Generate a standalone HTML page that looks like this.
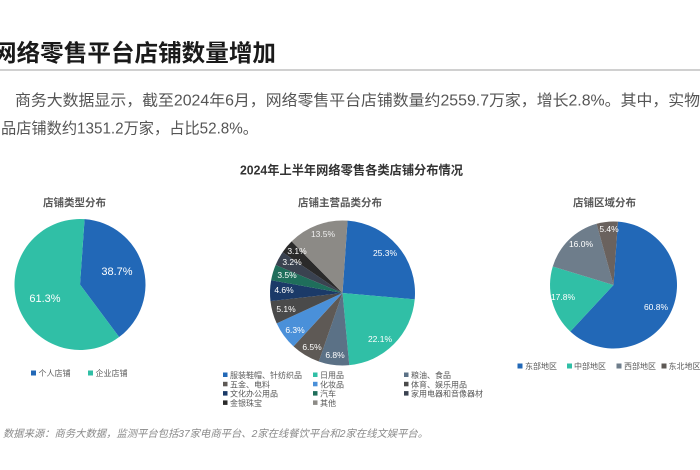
<!DOCTYPE html>
<html><head><meta charset="utf-8"><style>
html,body{margin:0;padding:0;background:#fff;width:700px;height:470px;overflow:hidden}
svg{display:block}
text{font-family:"Liberation Sans","Noto Sans CJK SC",sans-serif}
</style></head><body>
<svg width="700" height="470" viewBox="0 0 700 470" xmlns="http://www.w3.org/2000/svg">
<rect width="700" height="470" fill="#fff"/>
<text x="-7" y="61" font-size="23.5" font-weight="bold" fill="#1a1a1a" textLength="283" lengthAdjust="spacingAndGlyphs">网络零售平台店铺数量增加</text>
<rect x="0" y="69" width="700" height="2" fill="#d0d0d0"/>
<text x="15" y="105.5" font-size="15.5" fill="#555" textLength="685" lengthAdjust="spacingAndGlyphs">商务大数据显示，截至2024年6月，网络零售平台店铺数量约2559.7万家，增长2.8%。其中，实物</text>
<text x="1" y="133.5" font-size="15.5" fill="#555" textLength="257" lengthAdjust="spacingAndGlyphs">品店铺数约1351.2万家，占比52.8%。</text>

<text x="351.5" y="174.7" font-size="12.5" font-weight="bold" fill="#333" text-anchor="middle" textLength="223" lengthAdjust="spacingAndGlyphs">2024年上半年网络零售各类店铺分布情况</text>

<text x="74.5" y="206" font-size="10.5" font-weight="bold" fill="#595959" text-anchor="middle">店铺类型分布</text>
<text x="340" y="206" font-size="10.5" font-weight="bold" fill="#595959" text-anchor="middle">店铺主营品类分布</text>
<text x="604.5" y="206" font-size="10.5" font-weight="bold" fill="#595959" text-anchor="middle">店铺区域分布</text>

<!-- Left pie -->
<g transform="rotate(4 80 284.5)">
<path d="M80,284.5 L80,219 A65.5,65.5 0 0 1 122.70,334.17 Z" fill="#2268b7"/>
<path d="M80,284.5 L122.70,334.17 A65.5,65.5 0 1 1 80,219 Z" fill="#30bfa6"/>
</g>
<g font-size="11" fill="#fff" text-anchor="middle">
<text x="117" y="275">38.7%</text>
<text x="45" y="302">61.3%</text>
</g>
<g font-size="8" fill="#595959">
<rect x="31" y="370.5" width="5" height="5" fill="#2268b7"/><text x="38.5" y="376">个人店铺</text>
<rect x="88" y="370.5" width="5" height="5" fill="#30bfa6"/><text x="95.5" y="376">企业店铺</text>
</g>

<!-- Middle pie -->
<g transform="rotate(4 342.5 293)">
<path d="M342.5,293 L342.5,220.5 A72.5,72.5 0 0 1 414.99,294.37 Z" fill="#2268b7"/>
<path d="M342.5,293 L414.99,294.37 A72.5,72.5 0 0 1 354.29,364.53 Z" fill="#30bfa6"/>
<path d="M342.5,293 L354.29,364.53 A72.5,72.5 0 0 1 323.59,362.99 Z" fill="#5b7186"/>
<path d="M342.5,293 L323.59,362.99 A72.5,72.5 0 0 1 297.35,349.72 Z" fill="#5e5955"/>
<path d="M342.5,293 L297.35,349.72 A72.5,72.5 0 0 1 278.97,327.93 Z" fill="#4a90d9"/>
<path d="M342.5,293 L278.97,327.93 A72.5,72.5 0 0 1 271.20,306.14 Z" fill="#4a4a4a"/>
<path d="M342.5,293 L271.20,306.14 A72.5,72.5 0 0 1 270.41,285.27 Z" fill="#1b3a68"/>
<path d="M342.5,293 L270.41,285.27 A72.5,72.5 0 0 1 273.84,269.73 Z" fill="#1f6e5b"/>
<path d="M342.5,293 L273.84,269.73 A72.5,72.5 0 0 1 279.87,256.49 Z" fill="#3a4250"/>
<path d="M342.5,293 L279.87,256.49 A72.5,72.5 0 0 1 288.12,245.06 Z" fill="#2a2a2a"/>
<path d="M342.5,293 L288.12,245.06 A72.5,72.5 0 0 1 342.5,220.5 Z" fill="#8c8a86"/>
</g>
<g font-size="8.5" fill="#fff" text-anchor="middle">
<text x="385" y="256">25.3%</text>
<text x="380" y="342">22.1%</text>
<text x="335" y="358">6.8%</text>
<text x="312" y="350">6.5%</text>
<text x="295" y="333">6.3%</text>
<text x="286" y="312">5.1%</text>
<text x="284" y="293">4.6%</text>
<text x="287" y="278">3.5%</text>
<text x="292" y="265">3.2%</text>
<text x="297" y="254">3.1%</text>
<text x="323" y="237" fill="#eee">13.5%</text>
</g>
<g font-size="8" fill="#595959">
<rect x="223" y="372.5" width="4.5" height="4.5" fill="#2268b7"/><text x="230" y="378">服装鞋帽、针纺织品</text>
<rect x="313" y="372.5" width="4.5" height="4.5" fill="#30bfa6"/><text x="320" y="378">日用品</text>
<rect x="404" y="372.5" width="4.5" height="4.5" fill="#5b7186"/><text x="411" y="378">粮油、食品</text>
<rect x="223" y="381.8" width="4.5" height="4.5" fill="#5e5955"/><text x="230" y="387.3">五金、电料</text>
<rect x="313" y="381.8" width="4.5" height="4.5" fill="#4a90d9"/><text x="320" y="387.3">化妆品</text>
<rect x="404" y="381.8" width="4.5" height="4.5" fill="#4a4a4a"/><text x="411" y="387.3">体育、娱乐用品</text>
<rect x="223" y="391.1" width="4.5" height="4.5" fill="#1b3a68"/><text x="230" y="396.6">文化办公用品</text>
<rect x="313" y="391.1" width="4.5" height="4.5" fill="#1f6e5b"/><text x="320" y="396.6">汽车</text>
<rect x="404" y="391.1" width="4.5" height="4.5" fill="#3a4250"/><text x="411" y="396.6">家用电器和音像器材</text>
<rect x="223" y="400.4" width="4.5" height="4.5" fill="#2a2a2a"/><text x="230" y="405.9">金银珠宝</text>
<rect x="313" y="400.4" width="4.5" height="4.5" fill="#8c8a86"/><text x="320" y="405.9">其他</text>
</g>

<!-- Right pie -->
<g transform="rotate(4 613.5 285)">
<path d="M613.5,285 L613.5,221.5 A63.5,63.5 0 1 1 573.64,334.43 Z" fill="#2268b7"/>
<path d="M613.5,285 L573.64,334.43 A63.5,63.5 0 0 1 551.62,270.76 Z" fill="#30bfa6"/>
<path d="M613.5,285 L551.62,270.76 A63.5,63.5 0 0 1 592.37,225.12 Z" fill="#6e7d8b"/>
<path d="M613.5,285 L592.37,225.12 A63.5,63.5 0 0 1 613.5,221.5 Z" fill="#6a625e"/>
</g>
<g font-size="8.5" fill="#fff" text-anchor="middle">
<text x="656" y="310">60.8%</text>
<text x="563" y="300">17.8%</text>
<text x="581" y="247">16.0%</text>
<text x="609" y="232">5.4%</text>
</g>
<g font-size="8" fill="#595959">
<rect x="517.5" y="363.5" width="5" height="5" fill="#2268b7"/><text x="525" y="369">东部地区</text>
<rect x="567" y="363.5" width="5" height="5" fill="#30bfa6"/><text x="574" y="369">中部地区</text>
<rect x="616.5" y="363.5" width="5" height="5" fill="#6e7d8b"/><text x="624" y="369">西部地区</text>
<rect x="661.5" y="363.5" width="5" height="5" fill="#5e5955"/><text x="668.5" y="369">东北地区</text>
</g>

<text x="3" y="437" font-size="10.3" font-style="italic" fill="#8a8a8a" textLength="425" lengthAdjust="spacingAndGlyphs">数据来源：商务大数据，监测平台包括37家电商平台、2家在线餐饮平台和2家在线文娱平台。</text>
</svg>
</body></html>
